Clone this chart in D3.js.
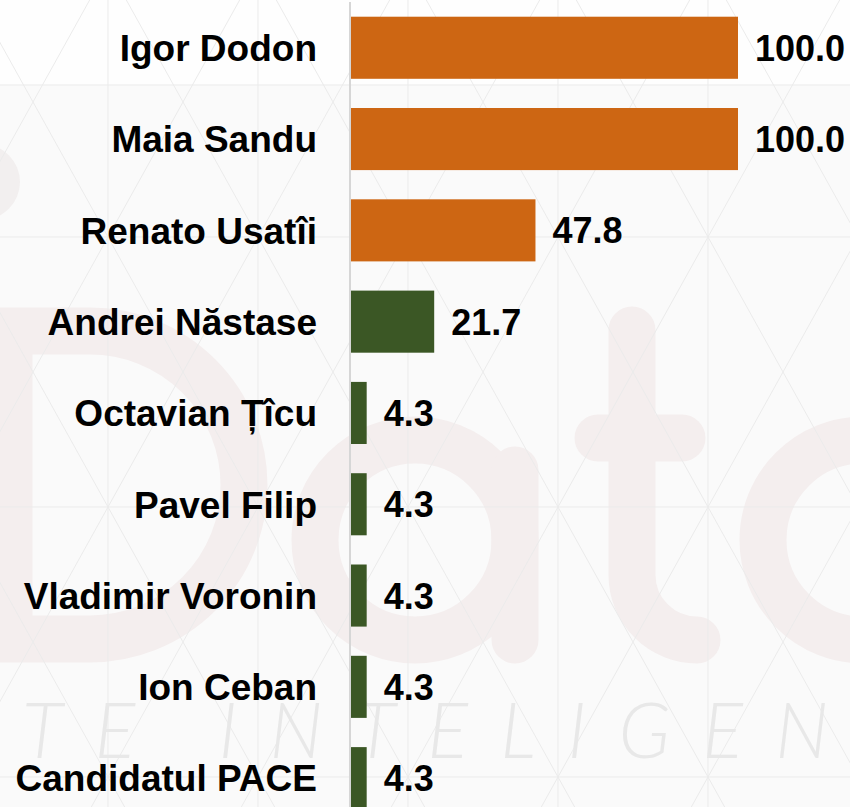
<!DOCTYPE html>
<html>
<head>
<meta charset="utf-8">
<style>
  body { margin: 0; background: #fafafa; }
  svg { display: block; }
</style>
</head>
<body>
<svg width="850" height="807"></svg>
<script src="https://cdn.jsdelivr.net/npm/d3@7/dist/d3.min.js"></script>
<script>
// data
const candidates = ["Igor Dodon", "Maia Sandu", "Renato Usatîi", "Andrei Năstase",
  "Octavian Țîcu", "Pavel Filip", "Vladimir Voronin", "Ion Ceban", "Candidatul PACE"];
const values = [100.0, 100.0, 47.8, 21.7, 4.3, 4.3, 4.3, 4.3, 4.3];
const groups = ["top", "top", "top", "rest", "rest", "rest", "rest", "rest", "rest"];
const groupColors = { top: "#cd6613", rest: "#3b5725" };

const W = 850, H = 807;
const svg = d3.select("svg");

// background
const bg = svg.append("g");
bg.append("rect").attr("width", W).attr("height", H).attr("fill", "#fafafa");
bg.append("rect").attr("width", W).attr("height", 85).attr("fill", "#fefefe");

// watermark "Data"
const wm = bg.append("g").attr("fill", "none").attr("stroke", "#f4eeee")
  .attr("stroke-width", 47).attr("stroke-linecap", "round");
wm.append("circle").attr("cx", -18).attr("cy", 182).attr("r", 38)
  .attr("fill", "#f2efef").attr("stroke", "none");
wm.append("path").attr("d", "M9,331 H90 A154,154 0 0 1 90,639 H9 Z")
  .attr("stroke-linejoin", "miter").attr("stroke-linecap", "butt");
wm.append("circle").attr("cx", 415).attr("cy", 540).attr("r", 100);
wm.append("path").attr("d", "M515,470 V640");
wm.append("path").attr("d", "M632,330 V575 A65,65 0 0 0 697,640");
wm.append("path").attr("d", "M598,438 H682");
wm.append("circle").attr("cx", 863).attr("cy", 540).attr("r", 100);

// lattice
const lat = bg.append("g").attr("stroke", "#ebebeb").attr("stroke-width", 1);
const colX = d3.range(-6, 8).map(k => 108 + 150 * k);
const rowY = [-33, 237, 507, 777];
rowY.concat([85]).forEach(y => lat.append("line").attr("x1", 0).attr("x2", W).attr("y1", y).attr("y2", y));
colX.forEach(x => {
  lat.append("line").attr("x1", x).attr("x2", x).attr("y1", 0).attr("y2", H);
  lat.append("line").attr("x1", x).attr("y1", -33).attr("x2", x + 1000 / 1.8).attr("y2", -33 + 1000);
  lat.append("line").attr("x1", x).attr("y1", -33).attr("x2", x - 1000 / 1.8).attr("y2", -33 + 1000);
});

bg.append("text")
  .attr("x", 22).attr("y", 758)
  .attr("font-family", "Lato, 'Liberation Sans', sans-serif")
  .attr("font-weight", 300).attr("font-style", "italic")
  .attr("font-size", 76).attr("letter-spacing", 32)
  .attr("fill", "#e8e8e8")
  .text("TE INTELIGEN");

// scales
const x = d3.scaleLinear().domain([0, 100]).range([350, 738]);
const y = d3.scaleBand().domain(candidates).range([2.1, 823.8])
  .paddingInner(0.32).paddingOuter(0.16);

// axis line
svg.append("line").attr("x1", x(0)).attr("x2", x(0)).attr("y1", 2).attr("y2", H)
  .attr("stroke", "#d6d6d6").attr("stroke-width", 2);

const rows = candidates.map((c, i) => ({ name: c, value: values[i], group: groups[i] }));

svg.append("g").selectAll("rect").data(rows).enter().append("rect")
  .attr("x", x(0) + 1)
  .attr("y", d => y(d.name))
  .attr("width", d => x(d.value) - x(0) - 1)
  .attr("height", y.bandwidth())
  .attr("fill", d => groupColors[d.group]);

const font = "'Liberation Sans', Arial, sans-serif";

svg.append("g").selectAll("text").data(rows).enter().append("text")
  .attr("x", 317)
  .attr("y", d => y(d.name) + y.bandwidth() / 2)
  .attr("dy", "0.36em")
  .attr("text-anchor", "end")
  .attr("font-family", font).attr("font-weight", "bold").attr("font-size", 37)
  .attr("fill", "#000")
  .text(d => d.name);

svg.append("g").selectAll("text").data(rows).enter().append("text")
  .attr("x", d => x(d.value) + 17)
  .attr("y", d => y(d.name) + y.bandwidth() / 2)
  .attr("dy", "0.36em")
  .attr("font-family", font).attr("font-weight", "bold").attr("font-size", 36)
  .attr("fill", "#000")
  .text(d => d3.format(".1f")(d.value));
</script>
</body>
</html>
